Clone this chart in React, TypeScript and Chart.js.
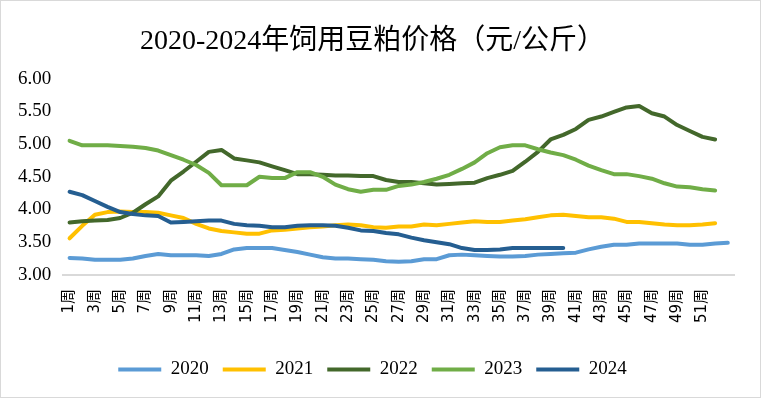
import React, { useEffect, useRef } from "react";
import { Chart, registerables } from "chart.js";

Chart.register(...registerables);

const TITLE = "2020-2024年饲用豆粕价格（元/公斤）";

const weeks = [
  "1周", "2周", "3周", "4周", "5周", "6周", "7周", "8周", "9周", "10周",
  "11周", "12周", "13周", "14周", "15周", "16周", "17周", "18周", "19周", "20周",
  "21周", "22周", "23周", "24周", "25周", "26周", "27周", "28周", "29周", "30周",
  "31周", "32周", "33周", "34周", "35周", "36周", "37周", "38周", "39周", "40周",
  "41周", "42周", "43周", "44周", "45周", "46周", "47周", "48周", "49周", "50周",
  "51周", "52周", "53周",
];

const y2020 = [
  3.26, 3.25, 3.23, 3.23, 3.23, 3.25, 3.29, 3.32, 3.30, 3.30,
  3.30, 3.29, 3.32, 3.39, 3.41, 3.41, 3.41, 3.38, 3.35, 3.31,
  3.27, 3.25, 3.25, 3.24, 3.23, 3.21, 3.20, 3.21, 3.24, 3.24,
  3.30, 3.31, 3.30, 3.29, 3.28, 3.28, 3.29, 3.31, 3.32, 3.33,
  3.34, 3.39, 3.43, 3.46, 3.46, 3.48, 3.48, 3.48, 3.48, 3.46,
  3.46, 3.48, 3.49,
];
const y2021 = [
  3.56, 3.75, 3.92, 3.96, 3.97, 3.96, 3.96, 3.95, 3.91, 3.87,
  3.78, 3.71, 3.67, 3.65, 3.63, 3.63, 3.68, 3.69, 3.71, 3.73,
  3.74, 3.76, 3.77, 3.76, 3.73, 3.72, 3.74, 3.74, 3.77, 3.76,
  3.78, 3.80, 3.82, 3.81, 3.81, 3.83, 3.85, 3.88, 3.91, 3.92,
  3.90, 3.88, 3.88, 3.86, 3.81, 3.81, 3.79, 3.77, 3.76, 3.76,
  3.77, 3.79,
];
const y2022 = [
  3.80, 3.82, 3.83, 3.84, 3.87, 3.95, 4.08, 4.20, 4.44, 4.58,
  4.73, 4.88, 4.91, 4.78, 4.75, 4.72, 4.66, 4.60, 4.54, 4.54,
  4.53, 4.52, 4.52, 4.51, 4.51, 4.45, 4.42, 4.42, 4.40, 4.38,
  4.39, 4.40, 4.41, 4.48, 4.53, 4.59, 4.73, 4.88, 5.07, 5.14,
  5.23, 5.37, 5.42, 5.49, 5.56, 5.58, 5.47, 5.42, 5.29, 5.20,
  5.11, 5.07,
];
const y2023 = [
  5.05, 4.98, 4.98, 4.98, 4.97, 4.96, 4.94, 4.90, 4.83, 4.76,
  4.68, 4.56, 4.37, 4.37, 4.37, 4.50, 4.48, 4.48, 4.57, 4.57,
  4.50, 4.38, 4.31, 4.27, 4.30, 4.30, 4.36, 4.38, 4.42, 4.47,
  4.53, 4.62, 4.72, 4.86, 4.95, 4.98, 4.98, 4.92, 4.87, 4.83,
  4.76, 4.67, 4.60, 4.54, 4.54, 4.51, 4.47, 4.40, 4.35, 4.34,
  4.31, 4.29,
];
const y2024 = [
  4.27, 4.22, 4.13, 4.04, 3.96, 3.93, 3.91, 3.90, 3.80, 3.81,
  3.82, 3.83, 3.83, 3.78, 3.76, 3.75, 3.73, 3.73, 3.75, 3.76,
  3.76, 3.75, 3.72, 3.68, 3.67, 3.64, 3.62, 3.57, 3.53, 3.50,
  3.47, 3.41, 3.38, 3.38, 3.39, 3.41, 3.41, 3.41, 3.41, 3.41,
];

const seriesNames = ["2020", "2021", "2022", "2023", "2024"];
const seriesData = [y2020, y2021, y2022, y2023, y2024];
const seriesColors = ["#5B9BD5", "#FFC000", "#43682B", "#70AD47", "#255E91"];

const yTicks = [3, 3.5, 4, 4.5, 5, 5.5, 6];

const SERIF = "'Liberation Serif', 'Times New Roman', 'Noto Sans CJK SC', serif";

export default function App() {
  const ref = useRef<HTMLCanvasElement | null>(null);

  useEffect(() => {
    document.body.style.margin = "0";
    const canvas = ref.current;
    if (!canvas) return;
    const chart = new Chart(canvas, {
      type: "line",
      data: {
        labels: weeks,
        datasets: seriesNames.map((name, i) => ({
          label: name,
          data: seriesData[i],
          borderColor: seriesColors[i],
          backgroundColor: seriesColors[i],
          borderWidth: 4,
          pointRadius: 0,
          pointHoverRadius: 0,
          tension: 0,
          borderCapStyle: "round",
          borderJoinStyle: "round",
          fill: false,
          order: seriesNames.length - i,
        })),
      },
      options: {
        responsive: false,
        animation: false,
        devicePixelRatio: 1,
        layout: { padding: { left: 5, right: 21, top: 0, bottom: 8 } },
        plugins: {
          title: {
            display: true,
            text: TITLE,
            color: "#000",
            font: { family: SERIF, size: 28, weight: "normal" },
            padding: { top: 24, bottom: 20 },
          },
          legend: {
            position: "bottom",
            sort: (a: any, b: any) => a.datasetIndex - b.datasetIndex,
            labels: {
              color: "#000",
              font: { family: SERIF, size: 19 },
              boxWidth: 43,
              boxHeight: 4,
              padding: 14,
              useBorderRadius: true,
              borderRadius: 2,
              generateLabels: (c: any) =>
                c.data.datasets.map((ds: any, i: number) => ({
                  text: ds.label,
                  fillStyle: ds.borderColor,
                  strokeStyle: ds.borderColor,
                  lineWidth: 0,
                  hidden: false,
                  datasetIndex: i,
                  fontColor: "#000",
                })),
            },
          },
          tooltip: { enabled: false },
        },
        scales: {
          x: {
            offset: true,
            grid: { display: false, drawTicks: false },
            border: { display: true, color: "#D9D9D9", width: 2 },
            afterFit: (scale: any) => {
              scale.height += 9;
            },
            ticks: {
              autoSkip: false,
              maxRotation: 90,
              minRotation: 90,
              padding: 14,
              color: "#000",
              font: { family: "'DejaVu Sans', 'Noto Sans CJK SC', sans-serif", size: 15 },
              callback: (_v: any, idx: number) =>
                idx % 2 === 0 && idx < 52 ? weeks[idx] : "",
            },
          },
          y: {
            min: 3,
            max: 6,
            grid: { display: false, drawTicks: false },
            border: { display: false },
            afterBuildTicks: (axis: any) => {
              axis.ticks = yTicks.map((v) => ({ value: v }));
            },
            ticks: {
              padding: 12,
              color: "#000",
              font: { family: SERIF, size: 19 },
              callback: (v: any) => Number(v).toFixed(2),
            },
          },
        },
      },
    });
    return () => chart.destroy();
  }, []);

  return (
    <div
      style={{
        width: 761,
        height: 398,
        boxSizing: "border-box",
        border: "1px solid #D9D9D9",
        background: "#fff",
      }}
    >
      <canvas ref={ref} width={759} height={396} style={{ display: "block" }} />
    </div>
  );
}
